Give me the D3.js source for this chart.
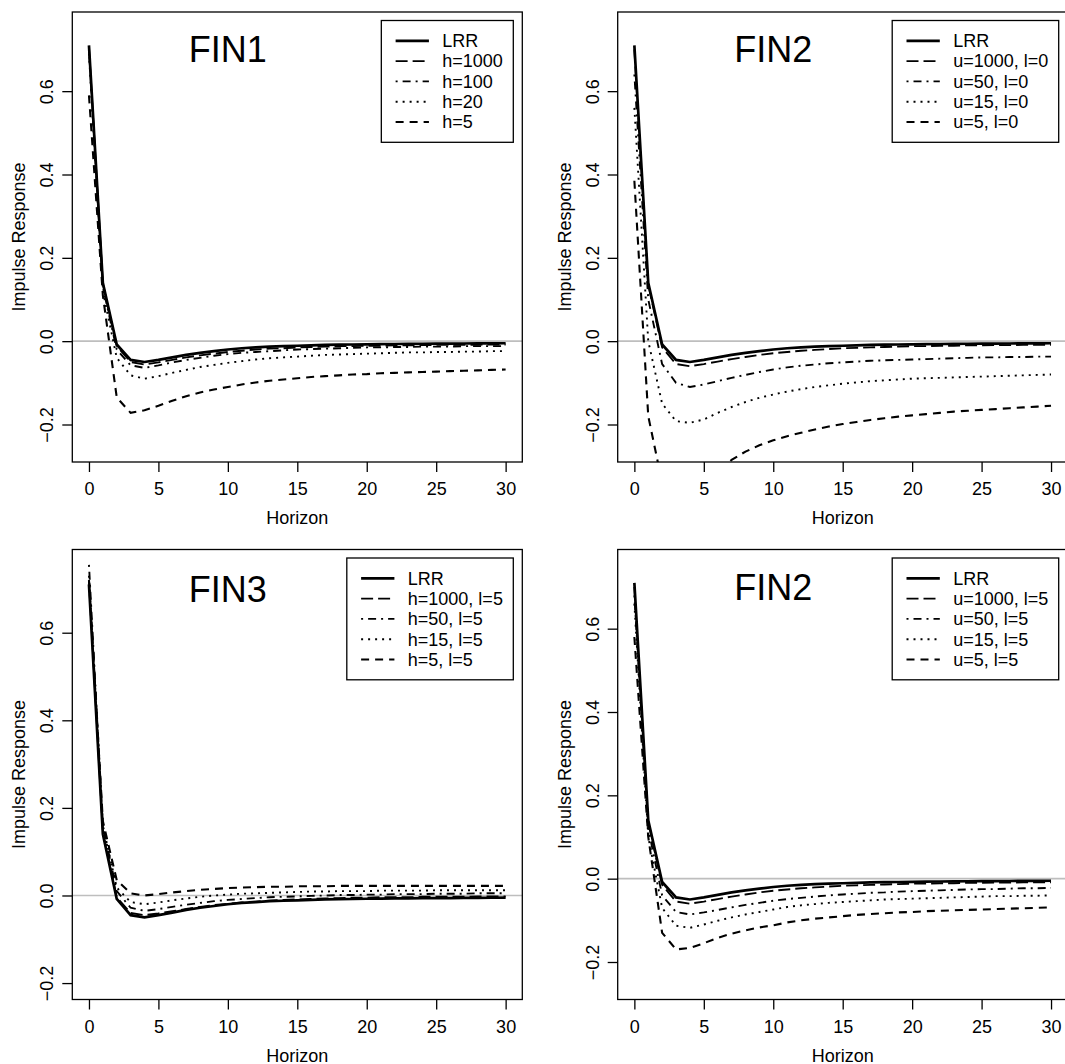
<!DOCTYPE html>
<html>
<head>
<meta charset="utf-8">
<script src="https://cdn.jsdelivr.net/npm/d3@7"></script>
<style>
    body { margin: 0; background: #fff; }
    svg text { font-family: "Liberation Sans", Arial, Helvetica, sans-serif; fill: #000; }
</style>
</head>
<body>
<div id="chart"></div>
<script>
// Data
//==============================================================
var horizon = [0, 1, 2, 3, 4, 5, 6, 7, 8, 9, 10, 11, 12, 13, 14, 15, 16, 17, 18, 19, 20, 21, 22, 23, 24, 25, 26, 27, 28, 29, 30];

var lrr = [0.710, 0.140, -0.008, -0.045, -0.050, -0.045, -0.039, -0.033, -0.028, -0.024, -0.020, -0.017, -0.015, -0.013, -0.012, -0.011, -0.010, -0.009, -0.0085, -0.008, -0.0075, -0.007, -0.0068, -0.0065, -0.0062, -0.006, -0.0058, -0.0056, -0.0054, -0.0052, -0.005];

// FIN1
var fin1H1000 = [0.705, 0.138, -0.012, -0.050, -0.056, -0.051, -0.045, -0.039, -0.034, -0.030, -0.026, -0.023, -0.020, -0.018, -0.017, -0.015, -0.014, -0.013, -0.012, -0.012, -0.011, -0.011, -0.010, -0.010, -0.0095, -0.009, -0.009, -0.0085, -0.0085, -0.008, -0.008];
var fin1H100 = [0.700, 0.130, -0.020, -0.058, -0.064, -0.058, -0.051, -0.045, -0.040, -0.035, -0.031, -0.028, -0.026, -0.024, -0.022, -0.020, -0.019, -0.018, -0.017, -0.016, -0.015, -0.015, -0.014, -0.014, -0.013, -0.013, -0.013, -0.012, -0.012, -0.012, -0.012];
var fin1H20 = [0.690, 0.120, -0.040, -0.082, -0.090, -0.084, -0.076, -0.069, -0.062, -0.057, -0.052, -0.048, -0.044, -0.041, -0.039, -0.037, -0.035, -0.033, -0.032, -0.031, -0.030, -0.029, -0.028, -0.027, -0.027, -0.026, -0.026, -0.025, -0.025, -0.024, -0.024];
var fin1H5 = [0.590, 0.110, -0.135, -0.172, -0.166, -0.155, -0.143, -0.132, -0.123, -0.116, -0.110, -0.104, -0.099, -0.095, -0.092, -0.089, -0.086, -0.084, -0.082, -0.080, -0.079, -0.077, -0.076, -0.075, -0.074, -0.073, -0.072, -0.071, -0.070, -0.069, -0.068];

// FIN2, l=0
var fin2U1000 = [0.700, 0.135, -0.015, -0.055, -0.060, -0.055, -0.049, -0.043, -0.038, -0.033, -0.029, -0.026, -0.023, -0.021, -0.019, -0.017, -0.016, -0.015, -0.014, -0.013, -0.012, -0.012, -0.011, -0.011, -0.010, -0.010, -0.0095, -0.0095, -0.009, -0.009, -0.009];
var fin2U50 = [0.640, 0.100, -0.055, -0.100, -0.110, -0.104, -0.096, -0.088, -0.081, -0.074, -0.068, -0.063, -0.059, -0.056, -0.053, -0.051, -0.049, -0.047, -0.046, -0.045, -0.044, -0.043, -0.042, -0.041, -0.040, -0.039, -0.039, -0.038, -0.038, -0.037, -0.037];
var fin2U15 = [0.560, 0.000, -0.150, -0.192, -0.196, -0.188, -0.172, -0.158, -0.146, -0.136, -0.128, -0.121, -0.115, -0.110, -0.106, -0.102, -0.099, -0.096, -0.094, -0.092, -0.090, -0.089, -0.088, -0.087, -0.086, -0.085, -0.084, -0.083, -0.082, -0.081, -0.080];
var fin2U5 = [0.385, -0.180, -0.340, -0.400, -0.390, -0.355, -0.315, -0.285, -0.265, -0.250, -0.238, -0.228, -0.220, -0.212, -0.205, -0.199, -0.194, -0.189, -0.185, -0.181, -0.178, -0.175, -0.172, -0.169, -0.167, -0.165, -0.163, -0.161, -0.159, -0.157, -0.155];

// FIN3, l=5
var fin3H1000 = [0.720, 0.145, -0.004, -0.040, -0.045, -0.041, -0.036, -0.031, -0.026, -0.022, -0.019, -0.016, -0.014, -0.012, -0.010, -0.009, -0.008, -0.007, -0.006, -0.005, -0.005, -0.004, -0.004, -0.004, -0.003, -0.003, -0.003, -0.003, -0.002, -0.002, -0.002];
var fin3H50 = [0.755, 0.160, 0.010, -0.028, -0.035, -0.031, -0.026, -0.021, -0.017, -0.013, -0.010, -0.008, -0.006, -0.004, -0.003, -0.002, -0.001, 0.000, 0.001, 0.001, 0.002, 0.002, 0.003, 0.003, 0.003, 0.004, 0.004, 0.004, 0.005, 0.005, 0.005];
var fin3H15 = [0.730, 0.160, 0.018, -0.015, -0.020, -0.016, -0.011, -0.007, -0.003, 0.000, 0.002, 0.004, 0.005, 0.006, 0.007, 0.008, 0.009, 0.009, 0.010, 0.010, 0.010, 0.011, 0.011, 0.011, 0.011, 0.012, 0.012, 0.012, 0.012, 0.012, 0.012];
var fin3H5 = [0.720, 0.170, 0.035, 0.005, 0.000, 0.003, 0.007, 0.010, 0.013, 0.015, 0.017, 0.018, 0.019, 0.020, 0.020, 0.021, 0.021, 0.021, 0.022, 0.022, 0.022, 0.022, 0.022, 0.022, 0.022, 0.022, 0.022, 0.022, 0.022, 0.022, 0.022];

// FIN2, l=5
var fin2bU1000 = [0.700, 0.135, -0.015, -0.055, -0.060, -0.055, -0.049, -0.043, -0.038, -0.033, -0.029, -0.026, -0.023, -0.021, -0.019, -0.017, -0.016, -0.015, -0.014, -0.013, -0.012, -0.012, -0.011, -0.011, -0.010, -0.010, -0.0095, -0.0095, -0.009, -0.009, -0.009];
var fin2bU50 = [0.680, 0.120, -0.040, -0.080, -0.086, -0.081, -0.075, -0.069, -0.063, -0.058, -0.053, -0.049, -0.046, -0.043, -0.040, -0.038, -0.036, -0.034, -0.033, -0.031, -0.030, -0.029, -0.028, -0.027, -0.026, -0.025, -0.025, -0.024, -0.023, -0.023, -0.022];
var fin2bU15 = [0.660, 0.100, -0.070, -0.113, -0.118, -0.110, -0.101, -0.093, -0.086, -0.080, -0.074, -0.068, -0.064, -0.061, -0.058, -0.056, -0.054, -0.052, -0.050, -0.049, -0.048, -0.047, -0.046, -0.045, -0.044, -0.043, -0.042, -0.042, -0.041, -0.041, -0.040];
var fin2bU5 = [0.580, 0.100, -0.130, -0.170, -0.166, -0.155, -0.142, -0.132, -0.124, -0.117, -0.112, -0.105, -0.100, -0.096, -0.093, -0.090, -0.087, -0.085, -0.083, -0.081, -0.080, -0.078, -0.077, -0.076, -0.075, -0.074, -0.073, -0.072, -0.071, -0.070, -0.069];

var xTicks = [0, 5, 10, 15, 20, 25, 30];
var yTicks = [-0.2, 0.0, 0.2, 0.4, 0.6];

var fin1Labels = ["LRR", "h=1000", "h=100", "h=20", "h=5"];
var fin2Labels = ["LRR", "u=1000, l=0", "u=50, l=0", "u=15, l=0", "u=5, l=0"];
var fin3Labels = ["LRR", "h=1000, l=5", "h=50, l=5", "h=15, l=5", "h=5, l=5"];
var fin2bLabels = ["LRR", "u=1000, l=5", "u=50, l=5", "u=15, l=5", "u=5, l=5"];

// Step One: panel layout (R style 2x2)
//==============================================================
var svgWidth = 1065;
var svgHeight = 1064;
var plotSize = 450;

// solid, longdash, dotdash, dotted, dashed
var dashes = [null, "12,5", "2,5,8,5", "2,5", "8,6"];
var widths = [2.7, 1.9, 1.9, 1.9, 2.1];

var panels = [
    { title: "FIN1", labels: fin1Labels, series: [lrr, fin1H1000, fin1H100, fin1H20, fin1H5], left: 72.3, top: 12, yMin: -0.29 },
    { title: "FIN2", labels: fin2Labels, series: [lrr, fin2U1000, fin2U50, fin2U15, fin2U5], left: 617.7, top: 12, yMin: -0.29 },
    { title: "FIN3", labels: fin3Labels, series: [lrr, fin3H1000, fin3H50, fin3H15, fin3H5], left: 72.3, top: 549.5, yMin: -0.2375 },
    { title: "FIN2", labels: fin2bLabels, series: [lrr, fin2bU1000, fin2bU50, fin2bU15, fin2bU5], left: 617.7, top: 549.5, yMin: -0.29 }
];

var svg = d3.select("#chart")
    .append("svg")
    .attr("width", svgWidth)
    .attr("height", svgHeight);

// Step Two: draw every panel
//==============================================================
panels.forEach(function(p, i) {
    var right = p.left + plotSize;
    var bottom = p.top + plotSize;

    var xScale = d3.scaleLinear().domain([-1.2, 31.2]).range([p.left, right]);
    var yScale = d3.scaleLinear().domain([p.yMin, 0.79]).range([bottom, p.top]);

    var g = svg.append("g");

    g.append("clipPath")
        .attr("id", "clip" + i)
        .append("rect")
        .attr("x", p.left)
        .attr("y", p.top)
        .attr("width", plotSize)
        .attr("height", plotSize);

    // grey zero line
    g.append("line")
        .attr("x1", p.left)
        .attr("x2", right)
        .attr("y1", yScale(0))
        .attr("y2", yScale(0))
        .attr("stroke", "#bebebe")
        .attr("stroke-width", 1.6);

    var line = d3.line()
        .x(function(d, j) { return xScale(horizon[j]); })
        .y(function(d) { return yScale(d); });

    // draw the least important series first so LRR sits on top
    for (var k = p.series.length - 1; k >= 0; k--) {
        g.append("path")
            .datum(p.series[k])
            .attr("d", line)
            .attr("clip-path", "url(#clip" + i + ")")
            .attr("fill", "none")
            .attr("stroke", "#000")
            .attr("stroke-width", widths[k])
            .attr("stroke-dasharray", dashes[k]);
    }

    // box
    g.append("rect")
        .attr("x", p.left)
        .attr("y", p.top)
        .attr("width", plotSize)
        .attr("height", plotSize)
        .attr("fill", "none")
        .attr("stroke", "#000")
        .attr("stroke-width", 1.3);

    // axes
    var bottomAxis = d3.axisBottom(xScale).tickValues(xTicks).tickSize(10).tickFormat(d3.format("d"));
    var leftAxis = d3.axisLeft(yScale).tickValues(yTicks).tickSize(10).tickFormat(d3.format(".1f"));

    var xAxisG = g.append("g")
        .attr("transform", `translate(0, ${bottom})`)
        .call(bottomAxis);
    xAxisG.select(".domain").remove();
    xAxisG.selectAll("line").attr("stroke", "#000").attr("stroke-width", 1.3);
    xAxisG.selectAll("text")
        .attr("y", 33)
        .attr("dy", null)
        .style("font-size", "18px")
        .style("font-family", "Liberation Sans, Arial, sans-serif");

    var yAxisG = g.append("g")
        .attr("transform", `translate(${p.left}, 0)`)
        .call(leftAxis);
    yAxisG.select(".domain").remove();
    yAxisG.selectAll("line").attr("stroke", "#000").attr("stroke-width", 1.3);
    yAxisG.selectAll("text")
        .attr("x", null)
        .attr("dy", null)
        .attr("transform", "translate(-19, 0) rotate(-90)")
        .attr("text-anchor", "middle")
        .style("font-size", "18px")
        .style("font-family", "Liberation Sans, Arial, sans-serif")
        .text(function(d) { return d3.format(".1f")(d).replace("-", "\u2212"); });

    // axis titles
    g.append("text")
        .attr("x", (p.left + right) / 2)
        .attr("y", bottom + 62)
        .attr("text-anchor", "middle")
        .style("font-size", "18px")
        .text("Horizon");

    g.append("text")
        .attr("transform", `translate(${p.left - 47}, ${(p.top + bottom) / 2}) rotate(-90)`)
        .attr("text-anchor", "middle")
        .style("font-size", "18px")
        .text("Impulse Response");

    // panel title
    g.append("text")
        .attr("x", xScale(10))
        .attr("y", yScale(0.7) + 12.9)
        .attr("text-anchor", "middle")
        .style("font-size", "36px")
        .text(p.title);

    // legend, top right with a small inset
    var yc = 20.3;
    var padL = 14.3, seg = 33.3, gap = 13.4, padR = 10.4;
    var legG = g.append("g");
    var legBox = legG.append("rect");
    var texts = legG.selectAll("text.leg")
        .data(p.labels)
        .enter()
        .append("text")
        .attr("class", "leg")
        .style("font-size", "18px")
        .text(function(d) { return d; });
    var maxW = 0;
    texts.each(function() { maxW = Math.max(maxW, this.getComputedTextLength()); });
    var boxW = padL + seg + gap + maxW + padR;
    var boxH = yc * (p.labels.length + 1);
    var boxRight = right - 9;
    var boxLeft = boxRight - boxW;
    var boxTop = p.top + 8.5;

    legBox.attr("x", boxLeft)
        .attr("y", boxTop)
        .attr("width", boxW)
        .attr("height", boxH)
        .attr("fill", "#fff")
        .attr("stroke", "#000")
        .attr("stroke-width", 1.3);

    texts.attr("x", boxLeft + padL + seg + gap)
        .attr("y", function(d, k) { return boxTop + yc * (k + 1); })
        .attr("dy", "0.35em");

    legG.selectAll("line.leg")
        .data(p.labels)
        .enter()
        .append("line")
        .attr("class", "leg")
        .attr("x1", boxLeft + padL)
        .attr("x2", boxLeft + padL + seg)
        .attr("y1", function(d, k) { return boxTop + yc * (k + 1); })
        .attr("y2", function(d, k) { return boxTop + yc * (k + 1); })
        .attr("stroke", "#000")
        .attr("stroke-width", function(d, k) { return widths[k]; })
        .attr("stroke-dasharray", function(d, k) { return dashes[k]; });
});
</script>
</body>
</html>
